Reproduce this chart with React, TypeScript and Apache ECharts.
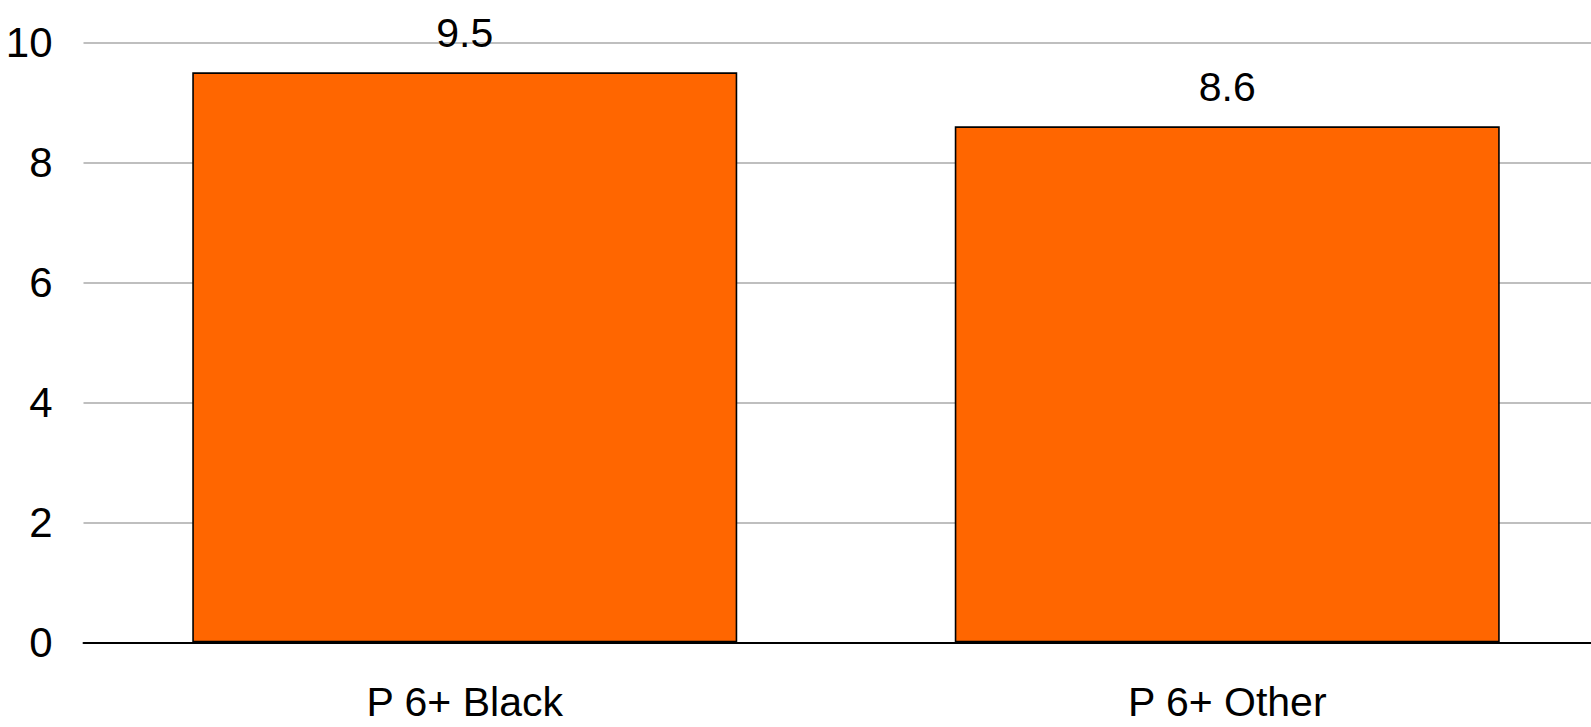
import React, { useEffect, useRef } from "react";
import * as echarts from "echarts";

const categories = ["P 6+ Black", "P 6+ Other"];
const values = [9.5, 8.6];
const yTicks = { min: 0, max: 10, interval: 2 };

const FONT = "'Liberation Sans Narrow', 'Arial Narrow', 'Liberation Sans', Arial, sans-serif";

export default function App() {
  const ref = useRef<HTMLDivElement>(null);
  useEffect(() => {
    if (!ref.current) return;
    const chart = echarts.init(ref.current, null, { renderer: "svg" });
    chart.setOption({
      animation: false,
      backgroundColor: "#ffffff",
      textStyle: { fontFamily: FONT },
      grid: { left: 83.5, top: 42.3, width: 1525, height: 600, containLabel: false },
      xAxis: {
        type: "category",
        data: categories,
        axisLine: { show: true, lineStyle: { color: "#000000", width: 2 } },
        axisTick: { show: false },
        axisLabel: { color: "#000000", fontSize: 41, lineHeight: 41, fontFamily: FONT, margin: 39 },
        splitLine: { show: false },
      },
      yAxis: {
        type: "value",
        min: yTicks.min,
        max: yTicks.max,
        interval: yTicks.interval,
        axisLine: { show: false },
        axisTick: { show: false },
        axisLabel: { color: "#000000", fontSize: 42, fontFamily: FONT, margin: 31 },
        splitLine: { show: true, lineStyle: { color: "#bfbfbf", width: 2 } },
      },
      series: [
        {
          type: "bar",
          data: values,
          barWidth: 545,
          itemStyle: { color: "#ff6600", borderColor: "#000000", borderWidth: 1.6 },
          label: {
            show: true,
            position: "top",
            distance: 19,
            color: "#000000",
            fontSize: 41,
            lineHeight: 41,
            fontFamily: FONT,
          },
        },
      ],
    });
    return () => chart.dispose();
  }, []);
  return (
    <div
      style={{
        position: "fixed",
        left: 0,
        top: 0,
        width: 1591,
        height: 727,
        overflow: "hidden",
        background: "#fff",
      }}
    >
      <div ref={ref} style={{ width: 1620, height: 727 }} />
    </div>
  );
}
